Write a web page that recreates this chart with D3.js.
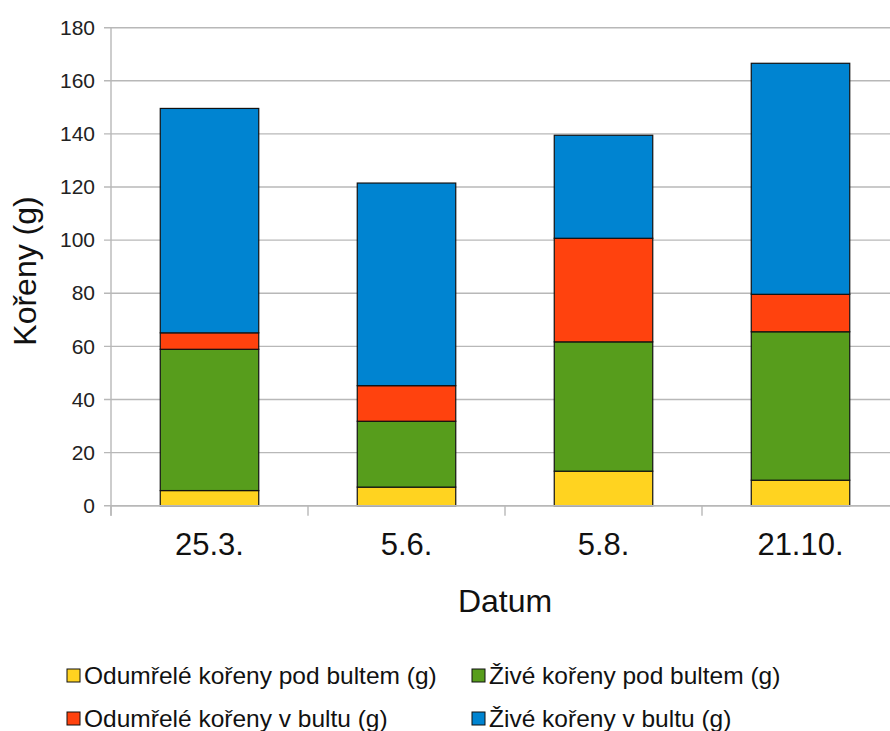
<!DOCTYPE html>
<html>
<head>
<meta charset="utf-8">
<script src="https://cdn.jsdelivr.net/npm/d3@7/dist/d3.min.js"></script>
<style>
  html, body { margin: 0; padding: 0; background: #fff; }
  svg { display: block; font-family: "Liberation Sans", Arial, sans-serif; }
</style>
</head>
<body>
<svg id="chart" width="890" height="731"></svg>
<script>
// Root mass per sampling date, stacked by root category
const dates = ["25.3.", "5.6.", "5.8.", "21.10."];
const seriesNames = [
  "Odumřelé kořeny pod bultem (g)",
  "Živé kořeny pod bultem (g)",
  "Odumřelé kořeny v bultu (g)",
  "Živé kořeny v bultu (g)"
];
const deadBelow  = [5.7, 7.0, 13.0, 9.6];
const liveBelow  = [53.2, 24.8, 48.7, 55.9];
const deadInside = [6.2, 13.4, 39.0, 14.1];
const liveInside = [84.5, 76.3, 38.8, 87.0];
const yTicks = [0, 20, 40, 60, 80, 100, 120, 140, 160, 180];
const colors = ["#FFD320", "#579D1C", "#FF420E", "#0084D1"];

const seriesValues = [deadBelow, liveBelow, deadInside, liveInside];
const rows = dates.map((d, i) => {
  const r = { date: d };
  seriesNames.forEach((s, k) => { r[s] = seriesValues[k][i]; });
  return r;
});

const svg = d3.select("#chart");
const plotLeft = 111, plotRight = 899, plotTop = 27.7, plotBottom = 505.7;

const x = d3.scaleBand().domain(dates).range([plotLeft, plotRight]).paddingInner(0.5).paddingOuter(0.25);
const y = d3.scaleLinear().domain([0, 180]).range([plotBottom, plotTop]);

// horizontal gridlines
svg.append("g").selectAll("line").data(yTicks).join("line")
  .attr("x1", plotLeft - 7).attr("x2", 890)
  .attr("y1", d => y(d)).attr("y2", d => y(d))
  .attr("stroke", "#b8b8b8").attr("stroke-width", 1.4);

// y axis
const yAxis = svg.append("g").attr("transform", `translate(${plotLeft},0)`)
  .call(d3.axisLeft(y).tickValues(yTicks).tickSize(0).tickPadding(16));
yAxis.select(".domain").remove();
yAxis.append("line").attr("x1", 0).attr("x2", 0).attr("y1", plotTop).attr("y2", plotBottom + 10)
  .attr("stroke", "#b8b8b8").attr("stroke-width", 1.4);
yAxis.selectAll("text").attr("font-size", 21).attr("fill", "#222")
  .style("font-family", "'Liberation Sans', Arial, sans-serif");

// stacked bars
const stack = d3.stack().keys(seriesNames);
const layers = stack(rows);
svg.append("g").selectAll("g").data(layers).join("g")
  .attr("fill", (d, i) => colors[i])
  .selectAll("rect").data(d => d).join("rect")
  .attr("x", d => x(d.data.date))
  .attr("width", x.bandwidth())
  .attr("y", d => y(d[1]))
  .attr("height", d => y(d[0]) - y(d[1]))
  .attr("stroke", "#111").attr("stroke-width", 1.2);

// x axis with ticks on category boundaries
const step = x.step();
const boundaries = d3.range(dates.length + 1).map(i => plotLeft + i * step);
const xg = svg.append("g");
xg.append("line").attr("x1", plotLeft).attr("x2", 890).attr("y1", plotBottom).attr("y2", plotBottom)
  .attr("stroke", "#b8b8b8").attr("stroke-width", 1.4);
xg.selectAll("line.tick").data(boundaries).join("line").attr("class", "tick")
  .attr("x1", d => d).attr("x2", d => d).attr("y1", plotBottom).attr("y2", plotBottom + 10)
  .attr("stroke", "#b8b8b8").attr("stroke-width", 1.4);
xg.selectAll("text").data(dates).join("text")
  .attr("x", d => x(d) + x.bandwidth() / 2).attr("y", 555)
  .attr("text-anchor", "middle").attr("font-size", 31).attr("fill", "#111")
  .text(d => d);

// axis titles
svg.append("text").attr("x", 505).attr("y", 612).attr("text-anchor", "middle")
  .attr("font-size", 32).attr("fill", "#111").text("Datum");
svg.append("text").attr("transform", "translate(36,271) rotate(-90)")
  .attr("text-anchor", "middle").attr("font-size", 32).attr("fill", "#111").text("Kořeny (g)");

// legend, two columns by two rows
const legendPos = [[67, 669], [472, 669], [67, 712], [472, 712]];
const lg = svg.append("g").selectAll("g").data(seriesNames).join("g")
  .attr("transform", (d, i) => `translate(${legendPos[i][0]},${legendPos[i][1]})`);
lg.append("rect").attr("width", 13).attr("height", 13)
  .attr("fill", (d, i) => colors[i]).attr("stroke", "#111").attr("stroke-width", 1);
lg.append("text").attr("x", 17).attr("y", 14.5).attr("font-size", 24.5).attr("fill", "#111")
  .text(d => d);
</script>
</body>
</html>
